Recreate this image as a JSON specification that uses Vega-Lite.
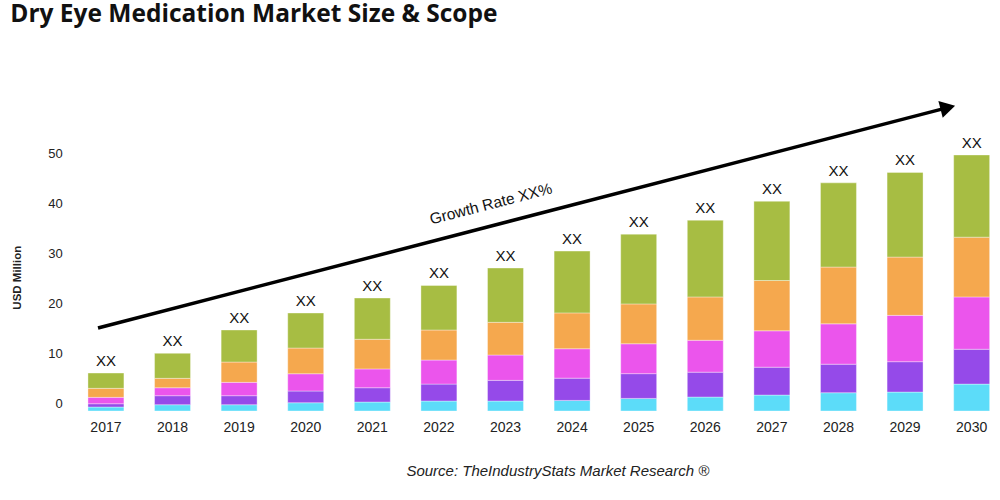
{
  "$schema": "https://vega.github.io/schema/vega-lite/v6.json",
  "width": 915,
  "height": 318.8,
  "autosize": {"type": "none"},
  "padding": {"left": 81.3, "top": 94.2, "right": 3.7, "bottom": 87},
  "background": "#ffffff",
  "config": {"view": {"stroke": null}},
  "title": {
    "text": "Dry Eye Medication Market Size & Scope",
    "anchor": "start",
    "frame": "group",
    "font": "Open Sans",
    "fontSize": 24.5,
    "fontWeight": "bold",
    "color": "#111111",
    "dx": -71,
    "offset": 48,
    "baseline": "alphabetic"
  },
  "datasets": {
    "bars": [
      {"year": "2017", "segment": "S1", "start": -1.6, "end": -0.8},
      {"year": "2017", "segment": "S2", "start": -0.8, "end": -0.14},
      {"year": "2017", "segment": "S3", "start": -0.14, "end": 1.14},
      {"year": "2017", "segment": "S4", "start": 1.14, "end": 2.95},
      {"year": "2017", "segment": "S5", "start": 2.95, "end": 6.02},
      {"year": "2018", "segment": "S1", "start": -1.6, "end": -0.34},
      {"year": "2018", "segment": "S2", "start": -0.34, "end": 1.47},
      {"year": "2018", "segment": "S3", "start": 1.47, "end": 3.07},
      {"year": "2018", "segment": "S4", "start": 3.07, "end": 4.96},
      {"year": "2018", "segment": "S5", "start": 4.96, "end": 9.98},
      {"year": "2019", "segment": "S1", "start": -1.6, "end": -0.34},
      {"year": "2019", "segment": "S2", "start": -0.34, "end": 1.47},
      {"year": "2019", "segment": "S3", "start": 1.47, "end": 4.15},
      {"year": "2019", "segment": "S4", "start": 4.15, "end": 8.23},
      {"year": "2019", "segment": "S5", "start": 8.23, "end": 14.66},
      {"year": "2020", "segment": "S1", "start": -1.6, "end": 0.06},
      {"year": "2020", "segment": "S2", "start": 0.06, "end": 2.41},
      {"year": "2020", "segment": "S3", "start": 2.41, "end": 5.88},
      {"year": "2020", "segment": "S4", "start": 5.88, "end": 11.04},
      {"year": "2020", "segment": "S5", "start": 11.04, "end": 18.07},
      {"year": "2021", "segment": "S1", "start": -1.6, "end": 0.2},
      {"year": "2021", "segment": "S2", "start": 0.2, "end": 3.07},
      {"year": "2021", "segment": "S3", "start": 3.07, "end": 6.85},
      {"year": "2021", "segment": "S4", "start": 6.85, "end": 12.8},
      {"year": "2021", "segment": "S5", "start": 12.8, "end": 21.08},
      {"year": "2022", "segment": "S1", "start": -1.6, "end": 0.4},
      {"year": "2022", "segment": "S2", "start": 0.4, "end": 3.8},
      {"year": "2022", "segment": "S3", "start": 3.8, "end": 8.63},
      {"year": "2022", "segment": "S4", "start": 8.63, "end": 14.66},
      {"year": "2022", "segment": "S5", "start": 14.66, "end": 23.6},
      {"year": "2023", "segment": "S1", "start": -1.6, "end": 0.4},
      {"year": "2023", "segment": "S2", "start": 0.4, "end": 4.55},
      {"year": "2023", "segment": "S3", "start": 4.55, "end": 9.64},
      {"year": "2023", "segment": "S4", "start": 9.64, "end": 16.2},
      {"year": "2023", "segment": "S5", "start": 16.2, "end": 27.1},
      {"year": "2024", "segment": "S1", "start": -1.6, "end": 0.53},
      {"year": "2024", "segment": "S2", "start": 0.53, "end": 5.0},
      {"year": "2024", "segment": "S3", "start": 5.0, "end": 10.9},
      {"year": "2024", "segment": "S4", "start": 10.9, "end": 18.1},
      {"year": "2024", "segment": "S5", "start": 18.1, "end": 30.5},
      {"year": "2025", "segment": "S1", "start": -1.6, "end": 0.93},
      {"year": "2025", "segment": "S2", "start": 0.93, "end": 5.9},
      {"year": "2025", "segment": "S3", "start": 5.9, "end": 11.9},
      {"year": "2025", "segment": "S4", "start": 11.9, "end": 19.9},
      {"year": "2025", "segment": "S5", "start": 19.9, "end": 33.9},
      {"year": "2026", "segment": "S1", "start": -1.6, "end": 1.2},
      {"year": "2026", "segment": "S2", "start": 1.2, "end": 6.2},
      {"year": "2026", "segment": "S3", "start": 6.2, "end": 12.6},
      {"year": "2026", "segment": "S4", "start": 12.6, "end": 21.3},
      {"year": "2026", "segment": "S5", "start": 21.3, "end": 36.7},
      {"year": "2027", "segment": "S1", "start": -1.6, "end": 1.6},
      {"year": "2027", "segment": "S2", "start": 1.6, "end": 7.2},
      {"year": "2027", "segment": "S3", "start": 7.2, "end": 14.5},
      {"year": "2027", "segment": "S4", "start": 14.5, "end": 24.6},
      {"year": "2027", "segment": "S5", "start": 24.6, "end": 40.5},
      {"year": "2028", "segment": "S1", "start": -1.6, "end": 2.07},
      {"year": "2028", "segment": "S2", "start": 2.07, "end": 7.8},
      {"year": "2028", "segment": "S3", "start": 7.8, "end": 15.9},
      {"year": "2028", "segment": "S4", "start": 15.9, "end": 27.3},
      {"year": "2028", "segment": "S5", "start": 27.3, "end": 44.2},
      {"year": "2029", "segment": "S1", "start": -1.6, "end": 2.2},
      {"year": "2029", "segment": "S2", "start": 2.2, "end": 8.3},
      {"year": "2029", "segment": "S3", "start": 8.3, "end": 17.6},
      {"year": "2029", "segment": "S4", "start": 17.6, "end": 29.3},
      {"year": "2029", "segment": "S5", "start": 29.3, "end": 46.3},
      {"year": "2030", "segment": "S1", "start": -1.6, "end": 3.8},
      {"year": "2030", "segment": "S2", "start": 3.8, "end": 10.8},
      {"year": "2030", "segment": "S3", "start": 10.8, "end": 21.3},
      {"year": "2030", "segment": "S4", "start": 21.3, "end": 33.3},
      {"year": "2030", "segment": "S5", "start": 33.3, "end": 49.8}
    ],
    "arrowLine": [
      {"pos": 2016.88, "val": 15.06},
      {"pos": 2029.55, "val": 59.0}
    ],
    "arrowHead": [
      {"pos": 2029.64, "val": 59.32}
    ],
    "growth": [
      {"pos": 2022.78, "val": 39.96, "label": "Growth Rate XX%"}
    ]
  },
  "resolve": {"scale": {"x": "independent"}, "axis": {"x": "independent"}},
  "layer": [
    {
      "data": {"name": "bars"},
      "mark": {"type": "bar", "stroke": "#ffffff", "strokeOpacity": 0.45, "strokeWidth": 0.8},
      "encoding": {
        "x": {
          "field": "year", "type": "ordinal",
          "scale": {"type": "band", "paddingInner": 0.46, "paddingOuter": 0.1},
          "axis": {
            "title": "Source: TheIndustryStats Market Research ®",
            "titleFont": "Liberation Sans", "titleFontSize": 15, "titleFontStyle": "italic", "titleFontWeight": "normal",
            "titleColor": "#222222", "titleX": 476, "titleY": 57, "titleAlign": "center", "titleBaseline": "middle",
            "labelAngle": 0, "labelFont": "Liberation Sans", "labelFontSize": 14, "labelColor": "#222222",
            "labelPadding": 7, "ticks": false, "tickSize": 0, "domain": false, "grid": false
          }
        },
        "y": {
          "field": "start", "type": "quantitative",
          "scale": {"domain": [-2, 62], "nice": false, "zero": false},
          "axis": {
            "title": "USD Million", "titleFont": "Liberation Sans", "titleFontSize": 11.5, "titleFontWeight": "bold",
            "titleColor": "#222222", "titleX": -64, "titleY": 183, "titleAngle": -90, "titleAlign": "center", "titleBaseline": "middle",
            "values": [0, 10, 20, 30, 40, 50],
            "labelFont": "Liberation Sans", "labelFontSize": 13, "labelColor": "#222222",
            "labelPadding": 19, "ticks": false, "tickSize": 0, "domain": false, "grid": false
          }
        },
        "y2": {"field": "end"},
        "color": {
          "field": "segment", "type": "nominal", "legend": null,
          "scale": {"domain": ["S1", "S2", "S3", "S4", "S5"], "range": ["#5cdcf9", "#954ae9", "#eb55ec", "#f5a84e", "#a7bd43"]}
        }
      }
    },
    {
      "data": {"name": "bars"},
      "transform": [{"filter": "datum.segment === 'S5'"}],
      "mark": {"type": "text", "font": "Liberation Sans", "fontSize": 15, "color": "#111111", "align": "center", "baseline": "bottom", "dy": -4},
      "encoding": {
        "x": {"field": "year", "type": "ordinal", "scale": {"type": "band", "paddingInner": 0.46, "paddingOuter": 0.1}, "axis": null},
        "y": {"field": "end", "type": "quantitative", "scale": {"domain": [-2, 62], "nice": false, "zero": false}},
        "text": {"value": "XX"}
      }
    },
    {
      "data": {"name": "arrowLine"},
      "mark": {"type": "line", "color": "#000000", "strokeWidth": 3.5},
      "encoding": {
        "x": {"field": "pos", "type": "quantitative", "scale": {"domain": [2016.629, 2030.368], "nice": false, "zero": false}, "axis": null},
        "y": {"field": "val", "type": "quantitative", "scale": {"domain": [-2, 62], "nice": false, "zero": false}}
      }
    },
    {
      "data": {"name": "arrowHead"},
      "mark": {"type": "point", "shape": "triangle-right", "filled": true, "color": "#000000", "opacity": 1, "size": 300, "angle": 345.5},
      "encoding": {
        "x": {"field": "pos", "type": "quantitative", "scale": {"domain": [2016.629, 2030.368], "nice": false, "zero": false}, "axis": null},
        "y": {"field": "val", "type": "quantitative", "scale": {"domain": [-2, 62], "nice": false, "zero": false}}
      }
    },
    {
      "data": {"name": "growth"},
      "mark": {"type": "text", "font": "Liberation Sans", "fontSize": 15.5, "color": "#111111", "angle": 345.5, "align": "center", "baseline": "middle"},
      "encoding": {
        "x": {"field": "pos", "type": "quantitative", "scale": {"domain": [2016.629, 2030.368], "nice": false, "zero": false}, "axis": null},
        "y": {"field": "val", "type": "quantitative", "scale": {"domain": [-2, 62], "nice": false, "zero": false}},
        "text": {"field": "label"}
      }
    }
  ]
}
